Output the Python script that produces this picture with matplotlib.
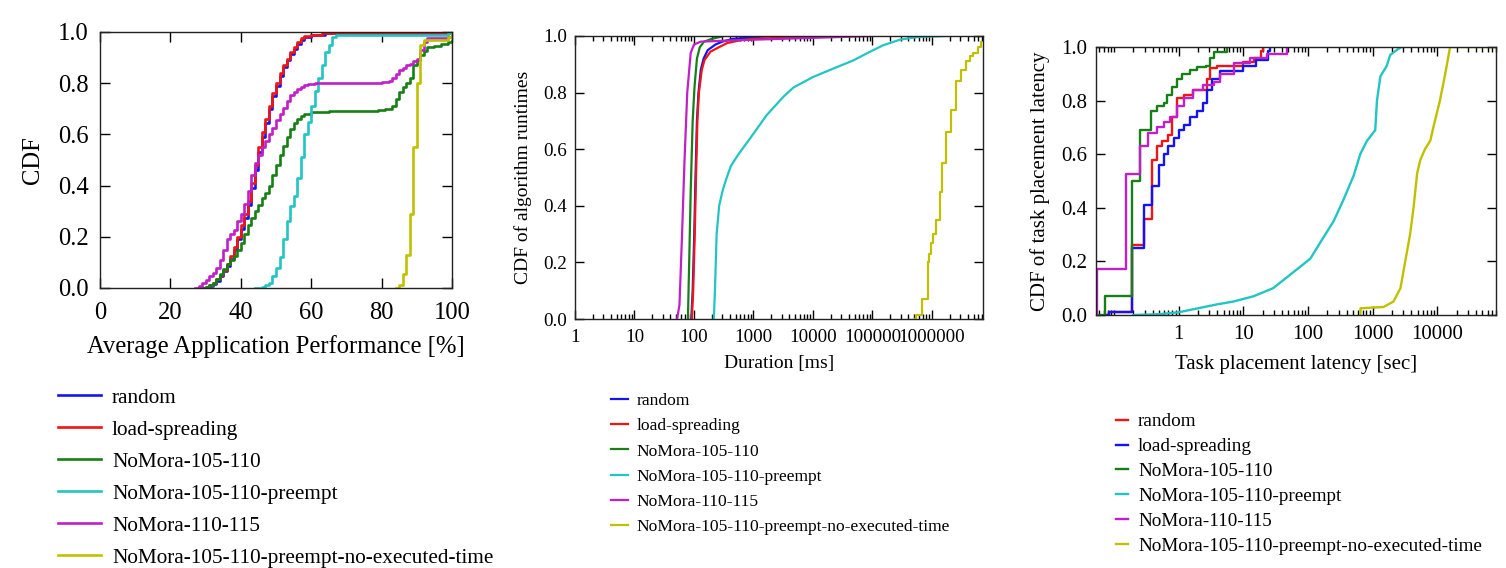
import matplotlib
matplotlib.use("Agg")
import matplotlib.pyplot as plt
from matplotlib.ticker import FixedLocator, NullFormatter, LogLocator

plt.rcParams['font.family'] = ['Liberation Serif', 'DejaVu Serif']

# colores de las series (estilo gnuplot)
C_BLUE = '#1414f0'
C_RED = '#f01414'
C_GREEN = '#168016'
C_CYAN = '#22c4c4'
C_MAG = '#c020c8'
C_YEL = '#c0c000'

labels = ["random", "load-spreading", "NoMora-105-110", "NoMora-105-110-preempt",
          "NoMora-110-115", "NoMora-105-110-preempt-no-executed-time"]

# ---------------- Panel 1: rendimiento promedio de aplicaciones [%] ----------------
perf_random_x = [29, 30, 31, 32, 33, 34, 35, 36, 37, 38, 39, 40, 41, 42, 43, 44, 45, 46, 47, 48, 49,
                 50, 51, 52, 53, 54, 55, 56, 57, 58, 60, 64, 68, 100]
perf_random_y = [0, 0.004, 0.008, 0.015, 0.028, 0.045, 0.065, 0.085, 0.115, 0.15, 0.19, 0.23, 0.275,
                 0.325, 0.39, 0.46, 0.53, 0.59, 0.645, 0.70, 0.75, 0.79, 0.83, 0.865, 0.89, 0.915,
                 0.935, 0.955, 0.97, 0.98, 0.99, 0.995, 0.997, 1.0]
perf_load_x = [29, 30, 31, 32, 33, 34, 35, 36, 37, 38, 39, 40, 41, 42, 43, 44, 45, 46, 47, 48, 49,
               50, 51, 52, 53, 54, 55, 56, 57, 58, 60, 63, 66, 100]
perf_load_y = [0, 0.005, 0.01, 0.02, 0.035, 0.05, 0.07, 0.095, 0.125, 0.16, 0.2, 0.245, 0.29, 0.34,
               0.41, 0.48, 0.55, 0.61, 0.66, 0.71, 0.76, 0.80, 0.84, 0.87, 0.895, 0.92, 0.94, 0.96,
               0.975, 0.983, 0.99, 0.995, 0.997, 1.0]
perf_nm105_x = [29, 30, 31, 32, 33, 34, 35, 36, 37, 38, 39, 40, 41, 42, 43, 44, 45, 46, 47, 48, 49,
                50, 51, 52, 53, 54, 55, 56, 57, 58, 60, 65, 70, 79, 81, 83, 84, 85, 86, 87, 88, 89,
                90, 91, 92, 93, 95, 97, 99, 100]
perf_nm105_y = [0, 0.005, 0.012, 0.02, 0.035, 0.055, 0.075, 0.095, 0.11, 0.125, 0.15, 0.175, 0.21,
                0.245, 0.275, 0.30, 0.325, 0.35, 0.37, 0.40, 0.44, 0.48, 0.52, 0.555, 0.59, 0.62,
                0.645, 0.66, 0.672, 0.68, 0.687, 0.69, 0.693, 0.697, 0.70, 0.71, 0.74, 0.765, 0.785,
                0.80, 0.82, 0.87, 0.89, 0.91, 0.925, 0.94, 0.945, 0.955, 0.96, 0.965]
perf_pre_x = [44, 46, 47, 48, 49, 50, 51, 52, 53, 54, 55, 56, 57, 58, 59, 60, 61, 62, 63, 64, 65,
              66, 67, 99, 100]
perf_pre_y = [0, 0.003, 0.01, 0.02, 0.045, 0.08, 0.12, 0.19, 0.26, 0.32, 0.36, 0.43, 0.51, 0.6,
              0.65, 0.71, 0.77, 0.82, 0.87, 0.92, 0.95, 0.98, 0.99, 0.995, 1.0]
perf_nm110_x = [27, 28, 29, 30, 31, 32, 33, 34, 35, 36, 37, 38, 39, 40, 41, 42, 43, 44, 45, 46, 47,
                48, 49, 50, 51, 52, 53, 54, 55, 56, 57, 58, 59, 61, 70, 80, 82, 83, 84, 85, 86, 87,
                88, 89, 90, 91, 92, 93, 99, 100]
perf_nm110_y = [0, 0.008, 0.018, 0.03, 0.045, 0.06, 0.08, 0.11, 0.15, 0.19, 0.21, 0.225, 0.26, 0.29,
                0.33, 0.38, 0.44, 0.49, 0.52, 0.55, 0.575, 0.6, 0.625, 0.655, 0.68, 0.705, 0.73,
                0.755, 0.767, 0.778, 0.787, 0.792, 0.797, 0.80, 0.802, 0.805, 0.81, 0.82, 0.835,
                0.85, 0.86, 0.87, 0.875, 0.885, 0.895, 0.93, 0.96, 0.975, 0.98, 0.99]
perf_noexe_x = [84, 85, 86, 87, 88, 89, 90, 91, 92, 99, 100]
perf_noexe_y = [0, 0.01, 0.055, 0.13, 0.29, 0.55, 0.8, 0.95, 0.97, 0.98, 1.0]

# ---------------- Panel 2: duracion del algoritmo [ms] ----------------
dur_random_x = [90, 95, 101, 106, 112, 119, 130, 145, 170, 230, 300, 450, 2000]
dur_random_y = [0, 0.1, 0.3, 0.5, 0.7, 0.8, 0.88, 0.92, 0.95, 0.97, 0.98, 0.99, 1.0]
dur_load_x = [92, 97, 103, 108, 114, 121, 135, 150, 190, 260, 360, 600, 1000, 5000, 30000]
dur_load_y = [0, 0.1, 0.3, 0.5, 0.7, 0.8, 0.88, 0.915, 0.945, 0.96, 0.975, 0.985, 0.99, 0.995, 1.0]
dur_nm105_x = [79, 83, 88, 95, 102, 112, 125, 147, 200, 320]
dur_nm105_y = [0, 0.2, 0.45, 0.7, 0.82, 0.92, 0.96, 0.98, 0.99, 1.0]
dur_pre_x = [215, 225, 240, 265, 300, 330, 415, 550, 700, 1000, 1660, 3170, 4690, 10000,
             22000, 48000, 79000, 150000, 290000, 550000, 1700000]
dur_pre_y = [0, 0.1, 0.3, 0.4, 0.45, 0.48, 0.54, 0.58, 0.61, 0.655, 0.72, 0.785, 0.818, 0.855,
             0.885, 0.914, 0.938, 0.967, 0.987, 0.996, 1.0]
dur_nm110_x = [52, 57, 63, 69, 77, 88, 100, 130, 500, 3000, 100000]
dur_nm110_y = [0, 0.05, 0.3, 0.55, 0.8, 0.94, 0.97, 0.98, 0.985, 0.99, 1.0]
dur_noexe_x = [510000, 530000, 670000, 850000, 900000, 970000, 1050000, 1180000, 1350000, 1500000,
               1740000, 2100000, 2550000, 3100000, 3800000, 4300000, 4900000, 5900000, 6700000]
dur_noexe_y = [0, 0.015, 0.07, 0.2, 0.23, 0.27, 0.3, 0.35, 0.45, 0.55, 0.66, 0.74, 0.84, 0.88,
               0.91, 0.93, 0.94, 0.96, 0.98]

# ---------------- Panel 3: latencia de colocacion de tareas [sec] ----------------
lat_random_x = [0.075, 0.083, 0.19, 0.29, 0.385, 0.47, 0.56, 0.7, 0.8, 0.95, 1.2, 1.7, 2.8, 3.1,
                4.0, 10, 14.5, 19, 20]
lat_random_y = [0, 0.01, 0.26, 0.36, 0.58, 0.63, 0.65, 0.67, 0.74, 0.81, 0.82, 0.84, 0.88, 0.92,
                0.93, 0.945, 0.96, 0.985, 1.0]
lat_load_x = [0.075, 0.083, 0.19, 0.29, 0.385, 0.5, 0.59, 0.7, 0.85, 1.0, 1.2, 1.5, 1.9, 2.4, 2.8,
              3.3, 4.4, 10, 16, 24, 26]
lat_load_y = [0, 0.01, 0.25, 0.41, 0.48, 0.56, 0.60, 0.63, 0.66, 0.69, 0.71, 0.74, 0.76, 0.79,
              0.84, 0.88, 0.91, 0.93, 0.95, 0.985, 1.0]
lat_nm105_x = [0.053, 0.072, 0.19, 0.25, 0.37, 0.46, 0.59, 0.66, 0.79, 0.94, 1.13, 1.5, 1.9, 2.7,
               3.1, 3.5, 5.6]
lat_nm105_y = [0, 0.07, 0.5, 0.69, 0.76, 0.78, 0.79, 0.82, 0.85, 0.88, 0.9, 0.915, 0.925, 0.93,
               0.96, 0.98, 1.0]
lat_pre_x = [0.2, 0.5, 1, 2, 4, 7, 14.5, 29, 53, 109, 155, 250, 355, 510, 645, 820, 1100, 1170,
             1320, 1660, 1870, 2400, 2800]
lat_pre_y = [0, 0.003, 0.01, 0.025, 0.04, 0.05, 0.07, 0.1, 0.15, 0.21, 0.27, 0.35, 0.43, 0.52,
             0.6, 0.65, 0.69, 0.8, 0.89, 0.93, 0.97, 0.99, 1.0]
lat_nm110_x = [0.054, 0.054, 0.153, 0.25, 0.34, 0.46, 0.59, 0.74, 0.94, 1.2, 1.7, 2.4, 3.5, 4.4,
               7.1, 12.8, 23, 47]
lat_nm110_y = [0, 0.17, 0.525, 0.63, 0.68, 0.70, 0.72, 0.74, 0.78, 0.81, 0.84, 0.86, 0.87, 0.9,
               0.94, 0.96, 0.975, 1.0]
lat_noexe_x = [650, 650, 1480, 2100, 2700, 3200, 3800, 4300, 4900, 5500, 6500, 7800, 8700, 11000,
               13300, 15800, 81000]
lat_noexe_y = [0, 0.025, 0.03, 0.05, 0.1, 0.2, 0.3, 0.4, 0.53, 0.58, 0.62, 0.65, 0.7, 0.8, 0.9,
               1.0, 1.0]

W, H = 1506, 568
fig = plt.figure(figsize=(W / 100, H / 100), dpi=100)


def add_ax(left, top, right, bottom):
    return fig.add_axes([left / W, 1 - bottom / H, (right - left) / W, (bottom - top) / H])


def style(ax, fs, major_len, minor_len):
    ax.tick_params(which='both', direction='in', top=True, right=True, labelsize=fs, width=1)
    ax.tick_params(which='major', length=major_len)
    ax.tick_params(which='minor', length=minor_len)
    for s in ax.spines.values():
        s.set_linewidth(1.0)
        s.set_color('#222222')
    ax.set_ylim(0, 1)
    ax.set_yticks([0, 0.2, 0.4, 0.6, 0.8, 1.0])
    ax.set_yticklabels(['0.0', '0.2', '0.4', '0.6', '0.8', '1.0'])


# Panel 1
ax1 = add_ax(100, 32, 452, 288)
lw1 = 1.9
series1 = [(perf_random_x, perf_random_y, C_BLUE), (perf_load_x, perf_load_y, C_RED),
           (perf_nm105_x, perf_nm105_y, C_GREEN), (perf_pre_x, perf_pre_y, C_CYAN),
           (perf_nm110_x, perf_nm110_y, C_MAG), (perf_noexe_x, perf_noexe_y, C_YEL)]
h1 = []
for (x, y, c), lab in zip(series1, labels):
    ln, = ax1.step(x, y, where='post', color=c, lw=lw1, label=lab)
    h1.append(ln)
ax1.set_xlim(0, 100)
ax1.set_xticks([0, 20, 40, 60, 80, 100])
style(ax1, 17.7, 7, 3.5)
ax1.tick_params(axis='x', pad=10)
ax1.tick_params(axis='y', pad=8)
ax1.set_xlabel("Average Application Performance [%]", fontsize=17.7, labelpad=8)
ax1.set_ylabel("CDF", fontsize=17.7, labelpad=10)
ax1.legend(handles=h1, loc='upper left', bbox_to_anchor=(58 / W, 1 - 388 / H),
           bbox_transform=fig.transFigure, frameon=False, fontsize=15.3, borderpad=0,
           borderaxespad=0, handlelength=2.02, handletextpad=0.52, labelspacing=0.57)

# Panel 2
ax2 = add_ax(575, 36, 983, 319)
lw2 = 1.6
series2 = [(dur_random_x, dur_random_y, C_BLUE), (dur_load_x, dur_load_y, C_RED),
           (dur_nm105_x, dur_nm105_y, C_GREEN), (dur_pre_x, dur_pre_y, C_CYAN),
           (dur_nm110_x, dur_nm110_y, C_MAG)]
h2 = []
for (x, y, c), lab in zip(series2, labels[:5]):
    ln, = ax2.plot(x, y, color=c, lw=lw2, label=lab)
    h2.append(ln)
ln, = ax2.step(dur_noexe_x, dur_noexe_y, where='post', color=C_YEL, lw=lw2, label=labels[5])
h2.append(ln)
ax2.set_xscale('log')
ax2.set_xlim(1, 7.2e6)
ax2.xaxis.set_major_locator(FixedLocator([1, 10, 100, 1000, 10000, 100000, 1000000]))
ax2.set_xticklabels(['1', '10', '100', '1000', '10000', '100000', '1000000'])
ax2.xaxis.set_minor_locator(LogLocator(base=10, subs=range(2, 10), numticks=20))
ax2.xaxis.set_minor_formatter(NullFormatter())
style(ax2, 13.7, 6.5, 3.5)
ax2.tick_params(axis='x', pad=7)
ax2.tick_params(axis='y', pad=6)
ax2.set_xlabel("Duration [ms]", fontsize=14, labelpad=7)
ax2.set_ylabel("CDF of algorithm runtimes", fontsize=14, labelpad=7.5)
ax2.legend(handles=h2, loc='upper left', bbox_to_anchor=(611 / W, 1 - 393 / H),
           bbox_transform=fig.transFigure, frameon=False, fontsize=12.6, borderpad=0,
           borderaxespad=0, handlelength=0.97, handletextpad=0.51, labelspacing=0.51)

# Panel 3 (en la leyenda original random es rojo y load-spreading azul)
ax3 = add_ax(1096, 47, 1496, 315)
lw3 = 1.7
h3 = []
for x, y, c, lab in [(lat_random_x, lat_random_y, C_RED, labels[0]),
                     (lat_load_x, lat_load_y, C_BLUE, labels[1]),
                     (lat_nm105_x, lat_nm105_y, C_GREEN, labels[2])]:
    ln, = ax3.step(x, y, where='post', color=c, lw=lw3, label=lab)
    h3.append(ln)
ln, = ax3.plot(lat_pre_x, lat_pre_y, color=C_CYAN, lw=lw3, label=labels[3])
h3.append(ln)
ln, = ax3.step(lat_nm110_x, lat_nm110_y, where='post', color=C_MAG, lw=lw3, label=labels[4])
h3.append(ln)
ln, = ax3.plot(lat_noexe_x, lat_noexe_y, color=C_YEL, lw=lw3, label=labels[5])
h3.append(ln)
ax3.set_xscale('log')
ax3.set_xlim(0.053, 8.1e4)
ax3.xaxis.set_major_locator(FixedLocator([1, 10, 100, 1000, 10000]))
ax3.set_xticklabels(['1', '10', '100', '1000', '10000'])
ax3.xaxis.set_minor_locator(LogLocator(base=10, subs=range(1, 10), numticks=20))
ax3.xaxis.set_minor_formatter(NullFormatter())
style(ax3, 15, 6.5, 3.5)
ax3.tick_params(axis='x', pad=7)
ax3.tick_params(axis='y', pad=6)
ax3.set_xlabel("Task placement latency [sec]", fontsize=15, labelpad=8)
ax3.set_ylabel("CDF of task placement latency", fontsize=15, labelpad=8)
ax3.legend(handles=h3, loc='upper left', bbox_to_anchor=(1116 / W, 1 - 413 / H),
           bbox_transform=fig.transFigure, frameon=False, fontsize=13.8, borderpad=0,
           borderaxespad=0, handlelength=0.63, handletextpad=0.52, labelspacing=0.39)

fig.savefig("out.png", dpi=100)
